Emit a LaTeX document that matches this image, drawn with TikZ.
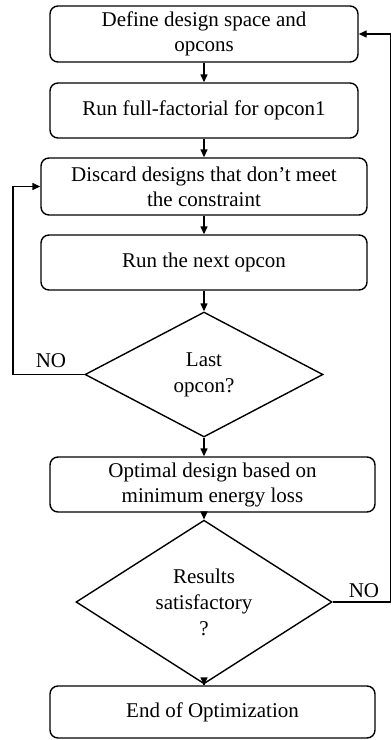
\documentclass[tikz,border=0pt]{standalone}
\usepackage{fontspec}
\setmainfont{Liberation Serif}
\usetikzlibrary{arrows.meta,shapes.geometric}
\begin{document}
\begin{tikzpicture}[x=1pt,y=-1pt,
  every node/.style={font=\fontsize{21}{25}\selectfont},
  stepbox/.style={draw, rounded corners=8pt, line width=1.4pt, align=center, inner sep=0pt},
  decide/.style={draw, diamond, line width=1.4pt, align=center, inner sep=0pt, font=\fontsize{21}{26}\selectfont},
  arr/.style={line width=1.4pt, -{Triangle[length=8pt,width=7pt]}},
  lbl/.style={inner sep=0pt}]
\useasboundingbox (0,0) rectangle (391,740);
\node[stepbox, minimum width=308pt, minimum height=56pt] (b1) at (204,34) {Define design space and\\opcons};
\node[stepbox, minimum width=308pt, minimum height=55pt] (b2) at (204,110.5) {Run full-factorial for opcon1};
\node[stepbox, minimum width=326pt, minimum height=57pt] (b3) at (204,186.5) {Discard designs that don’t meet\\the constraint};
\node[stepbox, minimum width=326pt, minimum height=55pt] (b4) at (204,262.5) {Run the next opcon};
\node[decide, minimum width=238pt, minimum height=125pt] (d1) at (204,374.5) {Last\\opcon?};
\node[stepbox, minimum width=325pt, minimum height=55pt] (b5) at (212.5,484.5) {Optimal design based on\\minimum energy loss};
\node[decide, minimum width=256pt, minimum height=124pt] (d2) at (204,602) {Results\\satisfactory\\?};
\node[stepbox, minimum width=325pt, minimum height=52pt] (b6) at (212.5,712) {End of Optimization};
\coordinate (L) at (13,0);
\coordinate (R) at (391,0);
\node[lbl] (no1) at (51,361) {NO};
\node[lbl] (no2) at (364,591) {NO};
\draw[arr] (b1.south) -- (b2.north);
\draw[arr] (b2.south) -- (b3.north);
\draw[arr] (b3.south) -- (b4.north);
\draw[arr] (b4.south) -- (d1.north);
\draw[arr] (d1.south) -- (d1.south |- b5.north);
\draw[arr] (d1.south |- b5.south) -- (d2.north);
\draw[arr] (d2.south) -- (d2.south |- b6.north);
\draw[arr] (d1.west) -- (d1.west -| L) |- (b3.west);
\draw[arr] (d2.east) -- (d2.east -| R) |- (b1.east);
\end{tikzpicture}
\end{document}
